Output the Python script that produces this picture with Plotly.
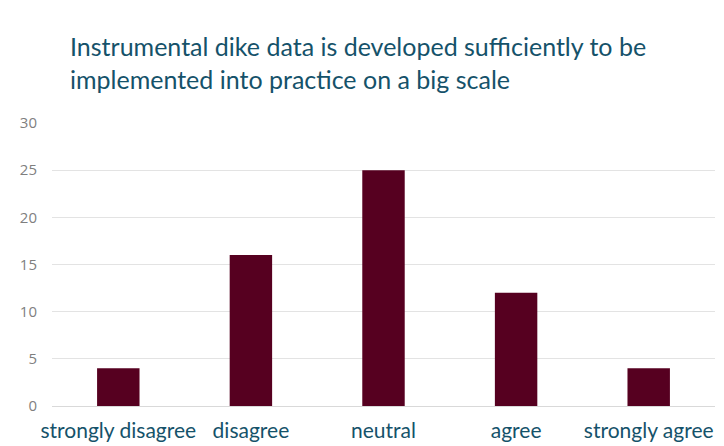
import plotly.graph_objects as go

categories = ["strongly disagree", "disagree", "neutral", "agree", "strongly agree"]
counts = [4, 16, 25, 12, 4]
y_ticks = [0, 5, 10, 15, 20, 25, 30]

title_text = ("Instrumental dike data is developed sufficiently to be<br>"
              "implemented into practice on a big scale")

teal = "#15526A"
bar_color = "#560020"

fig = go.Figure(
    go.Bar(
        x=categories,
        y=counts,
        marker=dict(color=bar_color, line=dict(width=0)),
        width=0.32,
    )
)

fig.update_layout(
    width=724,
    height=446,
    margin=dict(l=52, r=9, t=123, b=40),
    paper_bgcolor="white",
    plot_bgcolor="white",
    showlegend=False,
    xaxis=dict(
        tickfont=dict(family="Lato", size=21, color=teal),
        showgrid=False,
        showline=True,
        linecolor="#D9D9D9",
        linewidth=1,
        ticks="",
        ticklabelstandoff=6,
        automargin=False,
    ),
    yaxis=dict(
        range=[0, 30],
        tickvals=y_ticks,
        tickfont=dict(family="Open Sans", size=15, color="#7F7F7F"),
        showgrid=True,
        gridcolor="#E3E3E3",
        gridwidth=1,
        zeroline=False,
        ticks="",
        ticklabelstandoff=14,
        automargin=False,
    ),
    annotations=[
        dict(
            text=title_text,
            xref="paper",
            yref="paper",
            x=(68 - 52) / 663,
            y=1 + (123 - 29) / 283,
            xanchor="left",
            yanchor="top",
            align="left",
            showarrow=False,
            font=dict(family="Lato", size=25, color=teal),
        )
    ],
)

fig.write_html("out.html")
